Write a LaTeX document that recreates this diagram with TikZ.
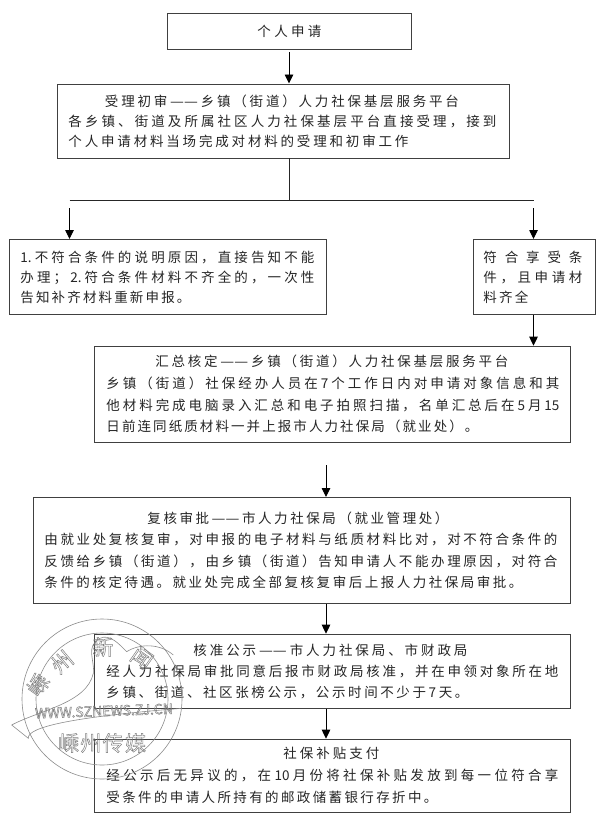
\documentclass[tikz,border=0pt]{standalone}
\usepackage{fontspec}
\usepackage{graphicx}
\setmainfont{Noto Sans CJK SC}[Scale=1]
\usetikzlibrary{arrows.meta}
\def\spcb#1{#1\futurelet\nxt\spcc}
\def\spcc{\ifx\nxt\relax\else\hfil\expandafter\spcb\fi}
\newcommand{\tl}[3]{\hspace*{#1pt}\makebox[#2pt][s]{\spcb#3\relax}}
\newcommand{\dsh}{\scalebox{1.15}[1]{—}\scalebox{1.15}[1]{—}}
\newcommand{\outl}[1]{\special{pdf:code q 1 Tr 0.5 w 0.5 G}#1\special{pdf:code Q}}
\tikzset{
 x=1pt,y=-1pt,
 boxn/.style={draw=black!75,line width=0.9pt,inner sep=0pt,anchor=north west,align=left,font=\fontsize{13.5}{21}\selectfont,text=black!85},
 arr/.style={draw=black,line width=0.9pt,-{Triangle[length=9pt,width=8.5pt]},shorten >=0pt},
 lin/.style={draw=black!85,line width=0.9pt},
 wm/.style={draw=black!45,line width=0.6pt},
 wmt/.style={inner sep=0pt,font=\fontsize{21}{21}\selectfont}
}
\begin{document}
\begin{tikzpicture}
\useasboundingbox[fill=white] (0,0) rectangle (600,819);
\node (b1) [boxn,minimum width=244pt,minimum height=36pt,align=center,text width=244pt] at (167,13) {\tl{0}{64}{个人申请}};
\node (b2) [boxn,minimum width=452pt,minimum height=74pt,text width=452pt,font=\fontsize{13.5}{20}\selectfont] at (57,83.5) {\tl{47.5}{354}{受理初审{\dsh}乡镇^^^^ff08街道^^^^ff09人力社保基层服务平台}\\\tl{11}{428}{各乡镇、街道及所属社区人力社保基层平台直接受理^^^^ff0c接到}\\\tl{11}{340}{个人申请材料当场完成对材料的受理和初审工作}};
\node (b3) [boxn,minimum width=317pt,minimum height=75pt,text width=317pt,font=\fontsize{13.5}{20}\selectfont] at (9,239) {\tl{11}{294}{{1.}不符合条件的说明原因^^^^ff0c直接告知不能}\\\tl{11}{294}{办理^^^^ff1b{2.}符合条件材料不齐全的^^^^ff0c一次性}\\\tl{11}{170}{告知补齐材料重新申报。}};
\node (b4) [boxn,minimum width=122pt,minimum height=75pt,text width=122pt,font=\fontsize{13.5}{20}\selectfont] at (473,239) {\tl{10}{99}{符合享受条}\\\tl{10}{99}{件^^^^ff0c且申请材}\\\tl{10}{45}{料齐全}};
\node (b5) [boxn,minimum width=476pt,minimum height=96pt,text width=476pt,font=\fontsize{13.5}{21.7}\selectfont] at (94,345.7) {\tl{61}{353}{汇总核定{\dsh}乡镇^^^^ff08街道^^^^ff09人力社保基层服务平台}\\\tl{12}{453}{乡镇^^^^ff08街道^^^^ff09社保经办人员在7个工作日内对申请对象信息和其}\\\tl{12}{453}{他材料完成电脑录入汇总和电子拍照扫描^^^^ff0c名单汇总后在5月{15}}\\\tl{12}{372}{日前连同纸质材料一并上报市人力社保局^^^^ff08就业处^^^^ff09。}};
\node (b6) [boxn,minimum width=537.5pt,minimum height=105.7pt,text width=537.5pt,font=\fontsize{13.5}{21.3}\selectfont] at (32.5,497) {\tl{114.5}{301}{复核审批{\dsh}市人力社保局^^^^ff08就业管理处^^^^ff09}\\\tl{11.5}{513}{由就业处复核复审^^^^ff0c对申报的电子材料与纸质材料比对^^^^ff0c对不符合条件的}\\\tl{11.5}{513}{反馈给乡镇^^^^ff08街道^^^^ff09^^^^ff0c由乡镇^^^^ff08街道^^^^ff09告知申请人不能办理原因^^^^ff0c对符合}\\\tl{11.5}{478}{条件的核定待遇。就业处完成全部复核复审后上报人力社保局审批。}};
\node (b7) [boxn,minimum width=476pt,minimum height=74pt,text width=476pt] at (94,633.7) {\tl{99}{274}{核准公示{\dsh}市人力社保局、市财政局}\\\tl{12}{452}{经人力社保局审批同意后报市财政局核准^^^^ff0c并在申领对象所在地}\\\tl{12}{362}{乡镇、街道、社区张榜公示^^^^ff0c公示时间不少于7天。}};
\node (b8) [boxn,minimum width=476pt,minimum height=73.3pt,text width=476pt,font=\fontsize{13.5}{22}\selectfont] at (94,738.7) {\tl{189}{96}{社保补贴支付}\\\tl{12}{452}{经公示后无异议的^^^^ff0c在{10}月份将社保补贴发放到每一位符合享}\\\tl{12}{331}{受条件的申请人所持有的邮政储蓄银行存折中。}};
\coordinate (a1s) at (289,52);
\coordinate (stem) at (289,200);
\coordinate (hl) at (69.5,200);
\coordinate (hr) at (533.5,200);
\coordinate (al) at (69.5,208);
\coordinate (ar) at (533.5,208);
\coordinate (a5s) at (326,465);
\draw[arr] (a1s) -- (a1s |- b2.north);
\draw[lin] (stem |- b2.south) -- (stem);
\draw[lin] (hl) -- (hr);
\draw[arr] (al) -- (al |- b3.north);
\draw[arr] (ar) -- (ar |- b4.north);
\draw[arr] (ar |- b4.south) -- (ar |- b5.north);
\draw[arr] (a5s) -- (a5s |- b6.north);
\draw[arr] (a5s |- b6.south) -- (a5s |- b7.north);
\draw[arr] (a5s |- b7.south) -- (a5s |- b8.north);
% watermark
\draw[wm] (102,699) circle (80);
\draw[wm] (102,699) circle (66);
\begin{scope}[shift={(10,610)},x=0.3333pt,y=-0.3333pt]
\draw[wm] (5,345) .. controls (90,300) and (230,280) .. (250,190) .. controls (255,150) and (225,110) .. (270,85) .. controls (300,70) and (330,105) .. (350,125) .. controls (390,100) and (450,100) .. (490,135);
\draw[wm] (5,345) -- (55,385) .. controls (50,350) and (200,320) .. (515,295);
\end{scope}
\node[wmt,rotate=55] (w1) at (38,685) {\outl{嵊}};
\node[wmt,rotate=40] (w2) at (62,662) {\outl{州}};
\node[wmt] (w3) at (103,647) {\outl{新}};
\node[wmt,rotate=-35] (w4) at (142,658) {\outl{闻}};
\node[wmt] (w5) at (102,743) {\makebox[88pt][s]{\outl{嵊}\hfil\outl{州}\hfil\outl{传}\hfil\outl{媒}}};
\node[wmt,font=\fontsize{14}{14}\selectfont,rotate=2] (w6) at (104,711) {\outl{WWW.SZNEWS.ZJ.CN}};
\end{tikzpicture}
\end{document}
